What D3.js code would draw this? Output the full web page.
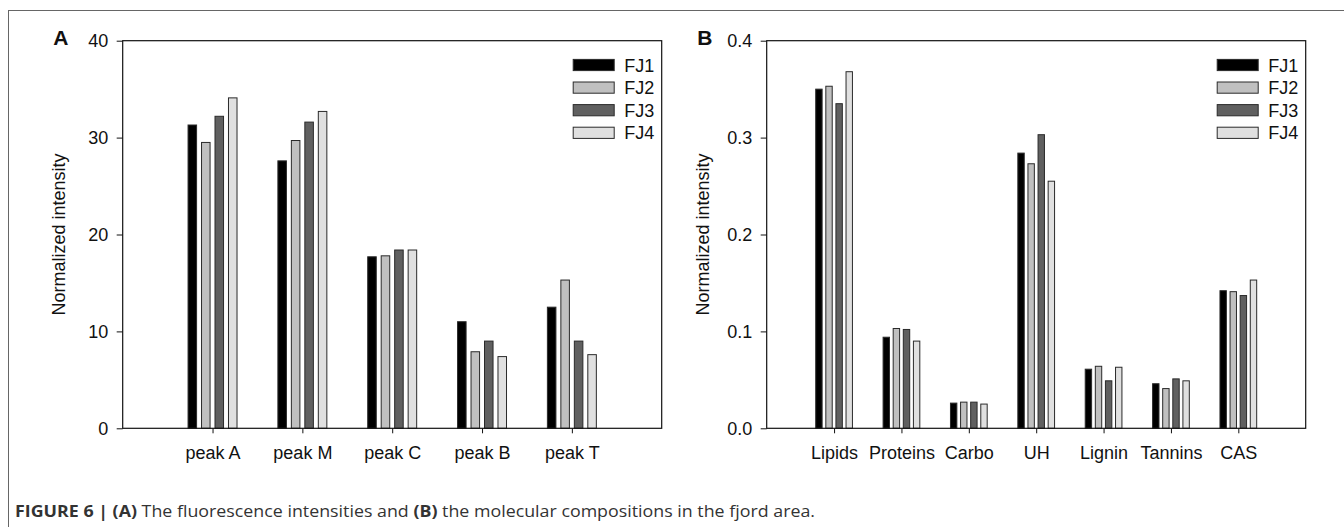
<!DOCTYPE html>
<html>
<head>
<meta charset="utf-8">
<script src="https://cdn.jsdelivr.net/npm/d3@7"></script>
<style>
  body { margin: 0; background: #fff; }
  svg { display: block; font-family: "Liberation Sans", Arial, sans-serif; }
</style>
</head>
<body>
<div id="chart"></div>
<script>
// series and categories
const seriesNames = ["FJ1", "FJ2", "FJ3", "FJ4"];
const seriesColors = ["#000000", "#c0c0c0", "#606060", "#e0e0e0"];

// panel A: fluorescence peaks
const peaks = ["peak A", "peak M", "peak C", "peak B", "peak T"];
const fj1Peaks = [31.3, 27.6, 17.7, 11.0, 12.5];
const fj2Peaks = [29.5, 29.7, 17.8, 7.9, 15.3];
const fj3Peaks = [32.2, 31.6, 18.4, 9.0, 9.0];
const fj4Peaks = [34.1, 32.7, 18.4, 7.4, 7.6];
const peakTicks = [0, 10, 20, 30, 40];

// panel B: molecular compositions
const compounds = ["Lipids", "Proteins", "Carbo", "UH", "Lignin", "Tannins", "CAS"];
const fj1Comp = [0.350, 0.094, 0.026, 0.284, 0.061, 0.046, 0.142];
const fj2Comp = [0.353, 0.103, 0.027, 0.273, 0.064, 0.041, 0.141];
const fj3Comp = [0.335, 0.102, 0.027, 0.303, 0.049, 0.051, 0.137];
const fj4Comp = [0.368, 0.090, 0.025, 0.255, 0.063, 0.049, 0.153];
const compTicks = [0, 0.1, 0.2, 0.3, 0.4];

const W = 1344, H = 527;
const svg = d3.select("#chart").append("svg")
  .attr("width", W).attr("height", H);

// marco exterior de la figura
svg.append("rect")
  .attr("x", 8.5).attr("y", 10.5)
  .attr("width", 1400).attr("height", 600)
  .attr("fill", "none").attr("stroke", "#666").attr("stroke-width", 1);

function drawPanel(left, cats, series, ticks, fmt, letter) {
  const right = left + 539, top = 40.7, bottom = 428.3;
  const x = d3.scaleLinear().domain([0, cats.length + 1]).range([left, right]);
  const y = d3.scaleLinear().domain([0, d3.max(ticks)]).range([bottom, top]);
  const unit = x(1) - x(0);
  const step = 0.15 * unit, bw = 0.095 * unit;
  const g = svg.append("g");

  // barras
  series.forEach((vals, j) => {
    g.selectAll(null)
      .data(vals)
      .join("rect")
      .attr("x", (d, i) => x(i + 1) + (j - 1.5) * step - bw / 2)
      .attr("y", d => y(d))
      .attr("width", bw)
      .attr("height", d => y(0) - y(d))
      .attr("fill", seriesColors[j])
      .attr("stroke", "#2a2a2a")
      .attr("stroke-width", 1);
  });

  // caja del grafico
  g.append("rect")
    .attr("x", left).attr("y", top)
    .attr("width", right - left).attr("height", bottom - top)
    .attr("fill", "none").attr("stroke", "#111").attr("stroke-width", 1.2);

  // eje y
  const yAxis = g.append("g")
    .attr("transform", `translate(${left},0)`)
    .call(d3.axisLeft(y).tickValues(ticks).tickFormat(fmt).tickSize(6).tickPadding(8.5));
  yAxis.select(".domain").remove();
  yAxis.selectAll("line").attr("stroke", "#111");
  yAxis.selectAll("text").attr("font-size", 18).attr("fill", "#111")
    .attr("font-family", "Liberation Sans, Arial, sans-serif");

  // eje x
  const xAxis = g.append("g")
    .attr("transform", `translate(0,${bottom})`)
    .call(d3.axisBottom(x).tickValues(d3.range(1, cats.length + 1))
      .tickFormat(i => cats[i - 1]).tickSize(5).tickPadding(13));
  xAxis.select(".domain").remove();
  xAxis.selectAll("line").attr("stroke", "#111");
  xAxis.selectAll("text").attr("font-size", 18).attr("fill", "#111")
    .attr("font-family", "Liberation Sans, Arial, sans-serif");

  // titulo eje y
  g.append("text")
    .attr("transform", `translate(${left - 57.5},${(top + bottom) / 2}) rotate(-90)`)
    .attr("text-anchor", "middle")
    .attr("font-size", 18).attr("fill", "#111")
    .text("Normalized intensity");

  // letra del panel
  g.append("text")
    .attr("x", left - 69.5).attr("y", 44.5)
    .attr("font-size", 21).attr("font-weight", "bold").attr("fill", "#111")
    .text(letter);

  // leyenda
  const leg = g.append("g");
  seriesNames.forEach((name, j) => {
    const cy = 65 + j * 22.6;
    leg.append("rect")
      .attr("x", right - 88.5).attr("y", cy - 5.6)
      .attr("width", 41).attr("height", 11.2)
      .attr("fill", seriesColors[j]).attr("stroke", "#2a2a2a").attr("stroke-width", 1);
    leg.append("text")
      .attr("x", right - 37.5).attr("y", cy + 6.5)
      .attr("font-size", 18).attr("fill", "#111")
      .text(name);
  });
}

drawPanel(122.7, peaks, [fj1Peaks, fj2Peaks, fj3Peaks, fj4Peaks], peakTicks, d3.format("d"), "A");
drawPanel(766.7, compounds, [fj1Comp, fj2Comp, fj3Comp, fj4Comp], compTicks, d3.format(".1f"), "B");

// pie de figura
const cap = svg.append("text")
  .attr("x", 15).attr("y", 516.5)
  .attr("font-size", 15.5).attr("fill", "#333")
  .attr("font-family", "'Open Sans', 'Liberation Sans', sans-serif")
  .attr("textLength", 800).attr("lengthAdjust", "spacingAndGlyphs");
cap.append("tspan").attr("font-weight", "bold").text("FIGURE 6 | (A)");
cap.append("tspan").text(" The fluorescence intensities and ");
cap.append("tspan").attr("font-weight", "bold").text("(B)");
cap.append("tspan").text(" the molecular compositions in the fjord area.");
</script>
</body>
</html>
